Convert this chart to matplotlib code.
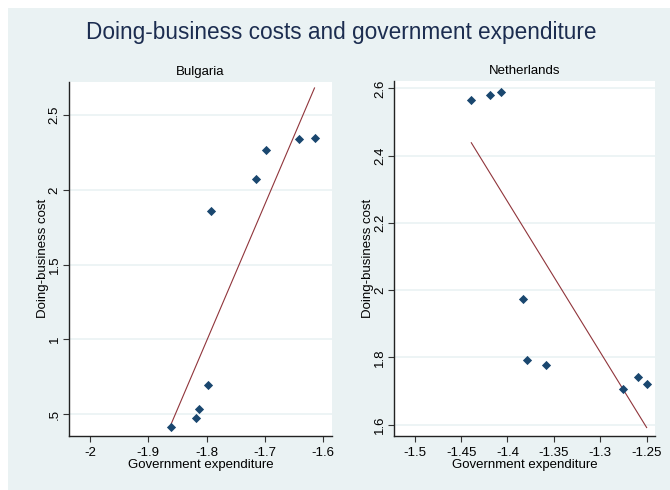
import numpy as np
import matplotlib
matplotlib.use("Agg")
import matplotlib.pyplot as plt
from matplotlib.patches import Rectangle

plt.rcParams['font.family'] = ['Liberation Sans', 'DejaVu Sans']

# Bulgaria
bg_gov = [-1.861, -1.818, -1.813, -1.797, -1.793, -1.716, -1.698, -1.641, -1.615]
bg_cost = [0.411, 0.475, 0.533, 0.696, 1.861, 2.076, 2.270, 2.340, 2.348]

# Netherlands
nl_gov = [-1.439, -1.419, -1.407, -1.383, -1.379, -1.359, -1.275, -1.259, -1.250]
nl_cost = [2.566, 2.579, 2.589, 1.973, 1.792, 1.776, 1.706, 1.741, 1.722]

bg_xticks = [-2, -1.9, -1.8, -1.7, -1.6]
bg_xlabels = ["-2", "-1.9", "-1.8", "-1.7", "-1.6"]
bg_yticks = [0.5, 1, 1.5, 2, 2.5]
bg_ylabels = [".5", "1", "1.5", "2", "2.5"]

nl_xticks = [-1.5, -1.45, -1.4, -1.35, -1.3, -1.25]
nl_xlabels = ["-1.5", "-1.45", "-1.4", "-1.35", "-1.3", "-1.25"]
nl_yticks = [1.6, 1.8, 2, 2.2, 2.4, 2.6]
nl_ylabels = ["1.6", "1.8", "2", "2.2", "2.4", "2.6"]

BG = "#EAF2F3"
NAVY = "#1a476f"
MAROON = "#90353b"

fig = plt.figure(figsize=(6.7, 4.9), dpi=100)
fig.patch.set_facecolor("white")
fig.add_artist(Rectangle((8 / 670, 0), 1, 1 - 8 / 490, transform=fig.transFigure,
                         facecolor=BG, edgecolor="none", zorder=-10))

fig.text(0.51, 1 - 33 / 490, "Doing-business costs and government expenditure",
         ha="center", va="center", fontsize=16.3, color="#1c2d50")


def panel(rect, x, y, title, xlim, ylim, xt, xtl, yt, ytl):
    ax = fig.add_axes(rect)
    ax.set_facecolor("white")
    ax.set_xlim(*xlim)
    ax.set_ylim(*ylim)
    ax.set_xticks(xt, xtl)
    ax.set_yticks(yt, ytl)
    ax.tick_params(axis="both", length=4, width=0.8, color="#333333",
                   labelsize=9.5)
    ax.tick_params(axis="x", pad=4)
    ax.tick_params(axis="y", pad=2)
    for lab in ax.get_yticklabels():
        lab.set_rotation(90)
        lab.set_va("center")
    for s in ("top", "right"):
        ax.spines[s].set_visible(False)
    for s in ("left", "bottom"):
        ax.spines[s].set_color("#222222")
        ax.spines[s].set_linewidth(1.0)
    ax.grid(axis="y", color=BG, linewidth=1.2)
    ax.set_axisbelow(True)

    ax.scatter(x, y, marker="D", s=22, color=NAVY, zorder=3, linewidths=0)
    coef = np.polyfit(x, y, 1)
    xs = np.array([min(x), max(x)])
    ax.plot(xs, np.polyval(coef, xs), color=MAROON, linewidth=0.8, zorder=2)

    ax.set_title(title, fontsize=9.5, pad=5)
    ax.set_xlabel("Government expenditure", fontsize=9.5, labelpad=0)
    ax.set_ylabel("Doing-business cost", fontsize=9.5, labelpad=0)
    return ax


panel([69 / 670, 0.1102, 263 / 670, 0.7231], bg_gov, bg_cost, "Bulgaria",
      (-2.036, -1.585), (0.353, 2.725), bg_xticks, bg_xlabels, bg_yticks, bg_ylabels)
panel([394.3 / 670, 0.1102, 260.7 / 670, 0.7245], nl_gov, nl_cost, "Netherlands",
      (-1.522, -1.241), (1.566, 2.622), nl_xticks, nl_xlabels, nl_yticks, nl_ylabels)

fig.savefig("out.png", dpi=100, facecolor=fig.get_facecolor())
